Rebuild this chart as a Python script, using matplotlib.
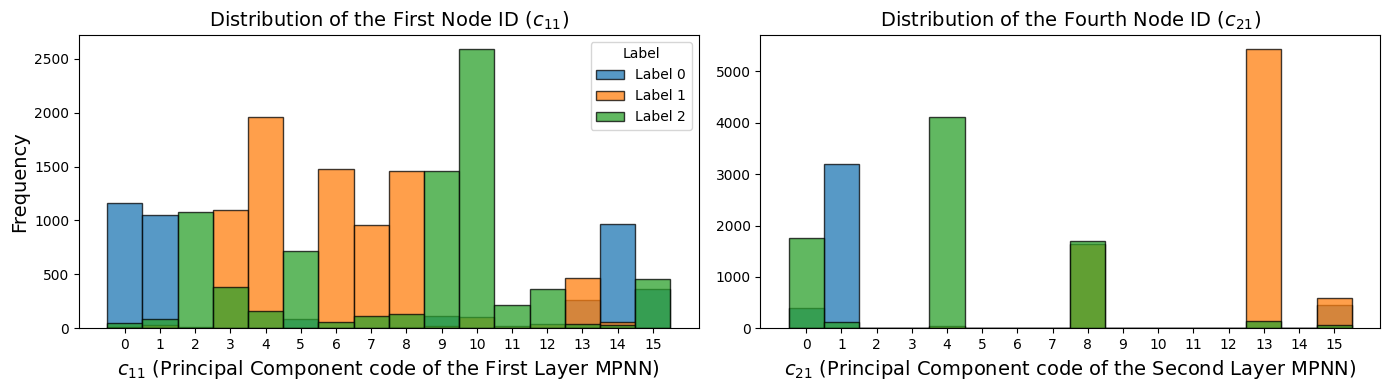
import matplotlib

matplotlib.use("Agg")
import matplotlib.pyplot as plt
import numpy as np

codes = np.arange(16)
labels = ["Label 0", "Label 1", "Label 2"]
colors = ["#1f77b4", "#ff7f0e", "#2ca02c"]

# counts per code for c11 (first layer)
c11_label0 = [1160, 1055, 5, 0, 5, 85, 5, 5, 10, 110, 5, 5, 5, 259, 963, 364]
c11_label1 = [10, 28, 15, 1100, 1955, 5, 1480, 955, 1455, 25, 102, 20, 40, 469, 62, 5]
c11_label2 = [45, 83, 1075, 380, 157, 713, 56, 114, 137, 1455, 2590, 213, 361, 43, 28, 454]

# counts per code for c21 (second layer)
c21_label0 = [403, 3195, 0, 0, 0, 0, 0, 0, 0, 0, 0, 0, 0, 0, 0, 455]
c21_label1 = [0, 0, 0, 0, 40, 0, 0, 0, 1640, 0, 0, 0, 0, 5435, 0, 591]
c21_label2 = [1753, 130, 0, 0, 4111, 0, 0, 0, 1695, 0, 0, 0, 0, 143, 0, 58]

fig, axes = plt.subplots(1, 2, figsize=(13.89, 3.9), dpi=100)
fig.subplots_adjust(left=0.0569, right=0.9935, top=0.9103, bottom=0.1582, wspace=0.1)


def layered_hist(ax, series):
    for vals, lab, col in zip(series, labels, colors):
        ax.bar(codes, vals, width=1.0, color=col, alpha=0.75,
               edgecolor="black", linewidth=1.0, label=lab)
    ax.set_xticks(codes)
    ax.set_ylim(0, None)


ax = axes[0]
layered_hist(ax, [c11_label0, c11_label1, c11_label2])
ax.set_title("Distribution of the First Node ID ($c_{11}$)", fontsize=14)
ax.set_xlabel("$c_{11}$ (Principal Component code of the First Layer MPNN)", fontsize=14)
ax.set_ylabel("Frequency", fontsize=14)
ax.legend(title="Label", loc="upper right")

ax = axes[1]
layered_hist(ax, [c21_label0, c21_label1, c21_label2])
ax.set_title("Distribution of the Fourth Node ID ($c_{21}$)", fontsize=14)
ax.set_xlabel("$c_{21}$ (Principal Component code of the Second Layer MPNN)", fontsize=14)

fig.savefig("out.png", dpi=100)
